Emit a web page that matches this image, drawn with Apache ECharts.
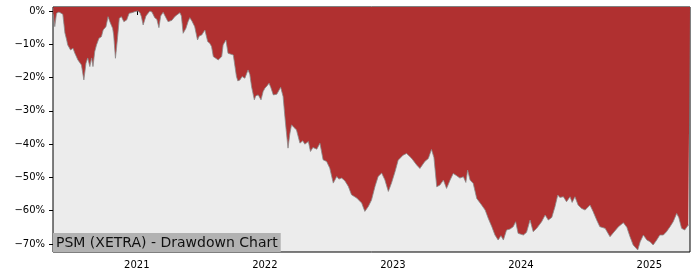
<!DOCTYPE html>
<html>
<head>
<meta charset="utf-8">
<script src="https://cdn.jsdelivr.net/npm/echarts@6/dist/echarts.min.js"></script>
<style>html,body{margin:0;padding:0;background:#fff}#c{width:700px;height:280px}</style>
</head>
<body>
<div id="c"></div>
<script>
var chartTitle = 'PSM (XETRA) - Drawdown Chart';
var dates = [
'2020-05-08','2020-05-12','2020-05-17','2020-05-24','2020-05-29','2020-06-04','2020-06-10','2020-06-15','2020-06-18','2020-06-26',
'2020-07-03','2020-07-08','2020-07-17','2020-07-27','2020-08-03','2020-08-09','2020-08-14','2020-08-20','2020-08-25','2020-08-29',
'2020-09-03','2020-09-08','2020-09-15','2020-09-22','2020-09-27','2020-10-05','2020-10-11','2020-10-16','2020-10-24','2020-10-27',
'2020-11-01','2020-11-04','2020-11-07','2020-11-12','2020-11-18','2020-11-25','2020-12-03','2020-12-10','2020-12-18','2020-12-26',
'2021-01-04','2021-01-10','2021-01-14','2021-01-19','2021-01-27','2021-02-07','2021-02-13','2021-02-21','2021-02-27','2021-03-05',
'2021-03-10','2021-03-17','2021-03-25','2021-03-31','2021-04-11','2021-04-19','2021-04-25','2021-05-04','2021-05-08','2021-05-13',
'2021-05-21','2021-05-27','2021-06-01','2021-06-07','2021-06-15','2021-06-23','2021-06-28','2021-07-05','2021-07-14','2021-07-22',
'2021-07-28','2021-08-02','2021-08-07','2021-08-14','2021-08-21','2021-08-26','2021-08-31','2021-09-04','2021-09-12','2021-09-18',
'2021-09-23','2021-10-03','2021-10-12','2021-10-16','2021-10-22','2021-10-28','2021-11-05','2021-11-14','2021-11-19','2021-11-24',
'2021-12-02','2021-12-06','2021-12-13','2021-12-21','2021-12-27','2022-01-01','2022-01-07','2022-01-13','2022-01-18','2022-01-25',
'2022-02-04','2022-02-15','2022-02-22','2022-02-27','2022-03-03','2022-03-08','2022-03-13','2022-03-18','2022-03-25','2022-04-01',
'2022-04-11','2022-04-19','2022-04-25','2022-05-05','2022-05-11','2022-05-18','2022-05-29','2022-06-07','2022-06-16','2022-06-26',
'2022-07-05','2022-07-15','2022-07-25','2022-07-31','2022-08-08','2022-08-17','2022-08-27','2022-09-05','2022-09-20','2022-10-04',
'2022-10-13','2022-10-23','2022-11-01','2022-11-11','2022-11-20','2022-11-30','2022-12-09','2022-12-19','2022-12-28','2023-01-07',
'2023-01-16','2023-01-30','2023-02-09','2023-02-23','2023-03-10','2023-03-19','2023-04-02','2023-04-12','2023-04-21','2023-04-28',
'2023-05-06','2023-05-15','2023-05-25','2023-06-03','2023-06-13','2023-06-22','2023-07-02','2023-07-11','2023-07-21','2023-07-28',
'2023-08-02','2023-08-09','2023-08-18','2023-08-28','2023-09-11','2023-09-21','2023-09-30','2023-10-10','2023-10-19','2023-10-28',
'2023-11-05','2023-11-12','2023-11-21','2023-12-01','2023-12-10','2023-12-17','2023-12-24','2024-01-08','2024-01-17','2024-01-27',
'2024-02-01','2024-02-05','2024-02-15','2024-02-29','2024-03-10','2024-03-19','2024-03-29','2024-04-07','2024-04-15','2024-04-21',
'2024-05-01','2024-05-10','2024-05-20','2024-05-26','2024-06-03','2024-06-12','2024-06-22','2024-07-02','2024-07-16','2024-07-25',
'2024-08-04','2024-08-13','2024-08-28','2024-09-11','2024-09-23','2024-10-05','2024-10-19','2024-10-29','2024-11-07','2024-11-16',
'2024-11-29','2024-12-06','2024-12-15','2024-12-25','2025-01-03','2025-01-12','2025-01-22','2025-01-31','2025-02-10','2025-02-19',
'2025-03-01','2025-03-10','2025-03-20','2025-03-26','2025-04-03','2025-04-12','2025-04-22','2025-04-27'
];
var drawdown = [
-1.0,-4.7,-0.7,-0.3,0,-1.0,-6.6,-8.7,-10.2,-11.7,
-11.2,-12.6,-14.7,-16.2,-20.7,-15.7,-14.1,-16.7,-14.1,-16.7,
-12.2,-10.2,-8.2,-7.7,-5.7,-4.7,-1.7,-3.2,-5.2,-7.2,
-14.2,-11.2,-8.0,-2.2,-1.7,-3.2,-2.7,-0.7,-0.5,-0.2,
0,-0.5,-1.7,-4.2,-1.5,0,-0.3,-2.0,-2.5,-5.0,
-1.5,-0.4,-2.0,-3.2,-2.8,-1.7,-1.2,-0.5,-1.5,-6.7,
-5.2,-3.2,-2.0,-3.0,-4.7,-8.7,-7.5,-7.2,-5.7,-9.2,
-9.7,-10.7,-13.7,-14.2,-14.7,-15.2,-13.7,-10.2,-8.7,-12.7,
-12.7,-13.2,-19.7,-21.0,-20.7,-19.7,-20.2,-17.7,-19.0,-22.7,
-26.7,-25.5,-25.2,-26.7,-24.2,-23.2,-22.5,-21.7,-23.0,-25.2,
-25.0,-22.9,-25.7,-31.7,-36.0,-41.2,-37.0,-34.2,-35.0,-35.7,
-39.7,-39.0,-40.0,-39.2,-42.2,-41.0,-41.5,-39.7,-44.7,-45.2,
-47.2,-51.7,-49.7,-50.5,-50.2,-51.0,-52.7,-55.2,-56.2,-57.7,
-60.2,-58.7,-56.8,-52.7,-49.7,-48.7,-50.7,-54.2,-51.7,-48.3,
-44.8,-43.3,-42.8,-44.2,-46.3,-47.3,-45.2,-44.3,-41.6,-44.0,
-52.8,-52.3,-50.8,-53.3,-50.8,-48.8,-49.5,-50.2,-49.8,-51.5,
-47.8,-50.8,-51.8,-56.3,-58.3,-59.8,-62.3,-64.8,-67.3,-68.8,
-67.5,-68.8,-65.8,-65.5,-64.8,-63.3,-66.8,-67.3,-66.5,-62.8,
-62.8,-66.3,-65.3,-63.3,-61.3,-62.8,-62.0,-58.8,-55.3,-56.0,
-55.8,-57.3,-55.8,-57.5,-55.8,-58.3,-59.3,-59.8,-58.3,-60.3,
-62.8,-64.8,-65.3,-67.8,-66.3,-64.8,-63.6,-65.0,-67.8,-70.3,
-71.8,-69.3,-67.3,-68.8,-69.3,-70.3,-68.8,-67.3,-67.3,-66.3,
-64.8,-63.3,-60.8,-62.0,-65.3,-65.8,-64.3,-64.3
];
var yTicks = [0,-10,-20,-30,-40,-50,-60,-70];
var xTickYears = [2021,2022,2023,2024,2025];
var xStart = '2020-05-07', xEnd = '2025-04-27';

function ts(s){ var p = s.split('-'); return Date.UTC(+p[0], +p[1]-1, +p[2]); }
var xTickValues = xTickYears.map(function(y){ return Date.UTC(y,0,1); });

var chart = echarts.init(document.getElementById('c'));
var fontFam = 'DejaVu Sans';
chart.setOption({
  animation: false,
  backgroundColor: '#ffffff',
  title: {
    text: chartTitle,
    left: 53, bottom: 28,
    backgroundColor: '#b2b2b2',
    padding: [2, 3, 1, 3],
    textStyle: {fontFamily: fontFam, fontSize: 14, fontWeight: 'normal', color: '#111', lineHeight: 16}
  },
  grid: {
    left: 53, right: 10, top: 7, bottom: 28,
    show: true, backgroundColor: '#ececec', borderColor: '#000', borderWidth: 1
  },
  xAxis: {
    type: 'value',
    min: ts(xStart), max: ts(xEnd),
    axisLine: {show: false},
    splitLine: {show: false},
    axisTick: {show: true, length: 4, lineStyle: {color: '#000'}, customValues: xTickValues},
    axisLabel: {
      color: '#000', fontFamily: fontFam, fontSize: 10, margin: 8,
      customValues: xTickValues,
      formatter: function(v){ return String(new Date(v).getUTCFullYear()); }
    }
  },
  yAxis: {
    type: 'value',
    min: -72.4, max: 1.2,
    axisLine: {show: false},
    splitLine: {show: false},
    axisTick: {show: true, length: 4, lineStyle: {color: '#000'}, customValues: yTicks},
    axisLabel: {
      color: '#000', fontFamily: fontFam, fontSize: 10, margin: 8,
      customValues: yTicks,
      formatter: function(v){ return (v < 0 ? '\u2212' + Math.abs(v) : String(v)) + '%'; }
    }
  },
  series: [{
    type: 'line',
    data: dates.map(function(d, i){ return [ts(d), drawdown[i]]; }),
    showSymbol: false,
    symbol: 'none',
    lineStyle: {color: '#8a8a8a', width: 0.8},
    areaStyle: {color: '#b03030', opacity: 1, origin: 'end'},
    z: 1
  }]
});
</script>
</body>
</html>
